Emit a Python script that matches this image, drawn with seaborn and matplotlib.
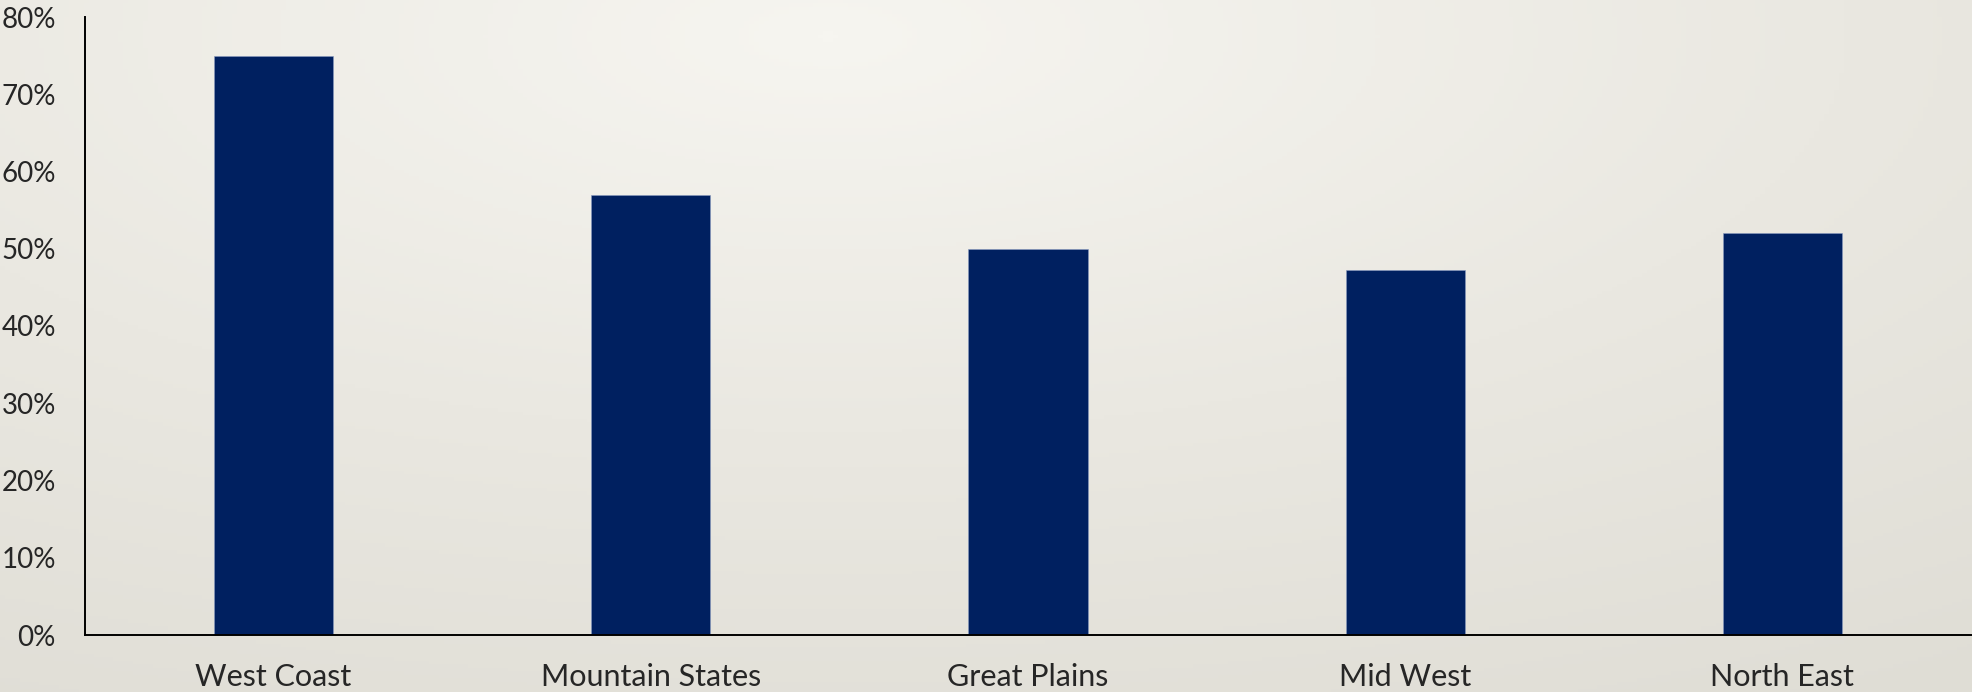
import numpy as np
import pandas as pd
import matplotlib.pyplot as plt
from matplotlib.colors import LinearSegmentedColormap
from matplotlib.ticker import PercentFormatter
import seaborn as sns

sns.set_style("white")
plt.rcParams['font.family'] = ['Lato', 'DejaVu Sans']

# data
regions = ["West Coast", "Mountain States", "Great Plains", "Mid West", "North East"]
shares = [75, 57, 50, 47.3, 52]
y_ticks = [0, 10, 20, 30, 40, 50, 60, 70, 80]

df = pd.DataFrame({"region": regions, "share": shares})

fig = plt.figure(figsize=(19.72, 6.92), dpi=100)

# soft radial background like the slide
bg = fig.add_axes([0, 0, 1, 1], zorder=-1)
gx, gy = np.meshgrid(np.linspace(0, 1, 400), np.linspace(0, 1, 200))
r = np.sqrt(((gx - 0.42) * 1.0) ** 2 + ((gy - 0.05) * 0.9) ** 2)
bg_cmap = LinearSegmentedColormap.from_list("bg", ["#f6f5f0", "#eae8e1", "#dfddd5"])
bg.imshow(r, cmap=bg_cmap, aspect="auto", extent=[0, 1, 0, 1], origin="upper")
bg.axis("off")

ax = fig.add_axes([85 / 1972, 1 - 635 / 692, 1886 / 1972, 618 / 692])
ax.set_facecolor("none")
sns.barplot(data=df, x="region", y="share", color="#002060", width=0.316,
            saturation=1, ax=ax, edgecolor="#8a9bc0", linewidth=0.4)

ax.set_ylim(0, 80)
ax.set_xlim(-0.5, len(regions) - 0.5)
ax.set_yticks(y_ticks)
ax.yaxis.set_major_formatter(PercentFormatter(decimals=0))
ax.set_xlabel("")
ax.set_ylabel("")
ax.tick_params(axis="y", length=0, pad=21, labelsize=20)
ax.tick_params(axis="x", length=0, pad=20, labelsize=22)

for side in ["top", "right"]:
    ax.spines[side].set_visible(False)
for side in ["left", "bottom"]:
    ax.spines[side].set_color("black")
    ax.spines[side].set_linewidth(1.4)

fig.savefig("out.png", dpi=100)
